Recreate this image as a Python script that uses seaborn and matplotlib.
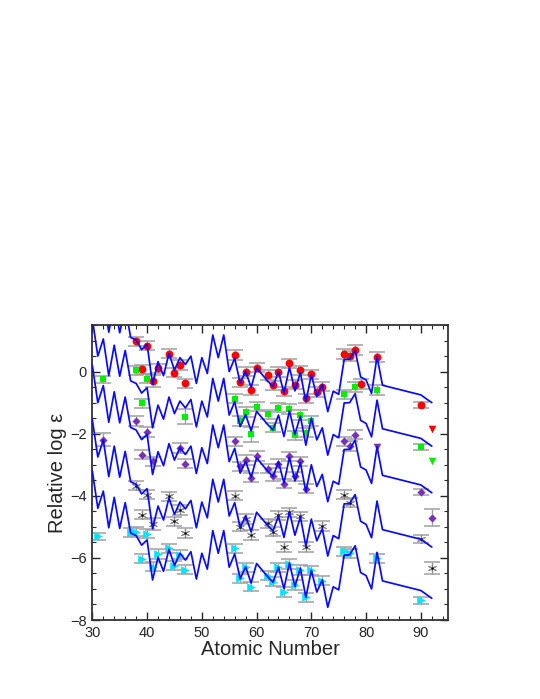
import numpy as np
import pandas as pd
import matplotlib
matplotlib.use("Agg")
import matplotlib.pyplot as plt
import seaborn as sns
from matplotlib.ticker import MultipleLocator

# ---- scaled solar r-process pattern (bottom curve) ----
pattern_Z = [30, 31, 32, 33, 34, 35, 36, 37, 38, 39, 40, 41, 42, 43, 44, 45, 46, 47, 48, 49,
             50, 51, 52, 53, 54, 55, 56, 57, 58, 59, 60, 62, 63, 64, 65, 66, 67, 68, 69, 70,
             71, 72, 73, 74, 75, 76, 77, 78, 79, 80, 81, 82, 83, 90, 92]
pattern_val = [-3.20, -4.40, -3.85, -5.03, -4.05, -5.05, -4.22, -5.20, -5.28, -5.59, -5.42,
               -6.71, -5.98, -6.43, -5.72, -6.25, -5.85, -6.07, -5.80, -6.68, -5.85, -6.36,
               -5.12, -5.85, -5.12, -6.30, -5.87, -6.67, -6.29, -6.81, -6.18, -6.60, -6.78,
               -6.30, -6.99, -6.16, -6.92, -6.33, -7.27, -6.40, -7.10, -6.71, -7.59, -6.93,
               -7.03, -5.91, -5.90, -5.61, -6.47, -6.57, -7.00, -5.82, -6.74, -7.05, -7.30]
curve_offsets = [6.30, 4.90, 3.40, 1.65, 0.0]

# ---- star 1 (red circles) ----
z1 = [38, 39, 40, 41, 42, 44, 45, 46, 47, 56, 57, 58, 59, 60, 62, 63, 64, 65, 66, 67, 68,
      69, 70, 71, 72, 76, 77, 78, 79, 82, 90]
v1 = [0.97, 0.07, 0.83, -0.30, 0.11, 0.58, -0.03, 0.21, -0.38, 0.54, -0.34, 0.00, -0.59,
      0.13, -0.11, -0.44, -0.01, -0.63, 0.27, -0.42, 0.04, -0.86, -0.09, -0.66, -0.49, 0.57,
      0.50, 0.70, -0.40, 0.48, -1.08]
e1 = [0.15, 0.15, 0.15, 0.2, 0.15, 0.15, 0.15, 0.15, 0.15, 0.15, 0.15, 0.15, 0.15, 0.15,
      0.15, 0.15, 0.15, 0.15, 0.15, 0.15, 0.15, 0.15, 0.15, 0.15, 0.15, 0.15, 0.15, 0.15,
      0.15, 0.16, 0.1]
lim1_z = [92]
lim1_v = [-1.86]

# ---- star 2 (green squares) ----
z2 = [32, 38, 39, 40, 47, 56, 57, 58, 59, 60, 62, 63, 64, 66, 67, 68, 69, 70, 76, 78, 82, 90]
v2 = [-0.25, 0.04, -1.02, -0.23, -1.45, -0.87, -1.59, -1.30, -2.02, -1.13, -1.38, -1.81,
      -1.16, -1.20, -2.05, -1.40, -1.97, -1.59, -0.73, -0.50, -0.59, -2.42]
e2 = [0.12, 0.15, 0.15, 0.15, 0.25, 0.15, 0.15, 0.15, 0.25, 0.15, 0.15, 0.15, 0.15, 0.15,
      0.15, 0.15, 0.15, 0.15, 0.15, 0.15, 0.15, 0.1]
lim2_z = [92]
lim2_v = [-2.89]

# ---- star 3 (purple) ----
z3 = [32, 38, 39, 40, 41, 46, 47, 56, 57, 58, 59, 60, 62, 63, 64, 65, 66, 67, 68, 69, 76,
      77, 78, 90, 92]
v3 = [-2.19, -1.59, -2.67, -1.94, -2.89, -2.46, -2.97, -2.24, -3.05, -2.85, -3.42, -2.72,
      -3.13, -3.37, -2.96, -3.61, -2.73, -3.37, -2.89, -3.77, -2.24, -2.40, -2.03, -3.88,
      -4.70]
e3 = [0.2, 0.15, 0.15, 0.15, 0.15, 0.15, 0.15, 0.15, 0.15, 0.15, 0.15, 0.15, 0.15, 0.15,
      0.15, 0.15, 0.15, 0.15, 0.15, 0.15, 0.15, 0.15, 0.15, 0.1, 0.26]
lim3_z = [82]
lim3_v = [-2.43]

# ---- star 4 (asterisks) ----
z4 = [38, 39, 40, 41, 44, 45, 46, 47, 56, 57, 58, 59, 62, 63, 64, 65, 66, 68, 69, 72, 76,
      77, 90, 92]
v4 = [-3.67, -4.61, -3.96, -4.90, -4.02, -4.82, -4.46, -5.20, -3.99, -4.99, -4.75, -5.26,
      -4.89, -5.15, -4.63, -5.65, -4.53, -4.66, -5.65, -4.97, -3.96, -4.22, -5.39, -6.32]
e4 = [0.15, 0.15, 0.15, 0.2, 0.15, 0.15, 0.15, 0.15, 0.15, 0.15, 0.15, 0.15, 0.15, 0.15,
      0.15, 0.15, 0.15, 0.15, 0.15, 0.15, 0.15, 0.15, 0.12, 0.2]

# ---- star 5 (cyan triangles) ----
z5 = [31, 37, 38, 39, 40, 41, 42, 44, 45, 46, 47, 56, 57, 58, 59, 62, 63, 64, 65, 66, 67,
      68, 69, 70, 72, 76, 77, 82, 90]
v5 = [-5.31, -5.18, -5.15, -6.02, -5.22, -6.28, -5.87, -5.69, -6.25, -5.90, -6.38, -5.69,
      -6.66, -6.30, -6.93, -6.57, -6.76, -6.30, -7.10, -6.20, -6.87, -6.39, -7.27, -6.40,
      -6.73, -5.79, -5.85, -6.01, -7.37]
e5 = [0.1, 0.15, 0.15, 0.15, 0.15, 0.15, 0.15, 0.15, 0.15, 0.15, 0.15, 0.15, 0.15, 0.15,
      0.15, 0.15, 0.15, 0.15, 0.15, 0.15, 0.15, 0.15, 0.15, 0.15, 0.15, 0.15, 0.15, 0.15,
      0.1]

sns.set_style("ticks")
plt.rcParams['font.family'] = ['Liberation Sans', 'DejaVu Sans']

fig = plt.figure(figsize=(5.40, 6.99), dpi=100)
ax = fig.add_axes([0.171, 0.113, 0.659, 0.422])

# curves
rows = []
for i, off in enumerate(curve_offsets):
    for z, v in zip(pattern_Z, pattern_val):
        rows.append({"Z": z, "val": v + off, "curve": i})
curves = pd.DataFrame(rows)
sns.lineplot(data=curves, x="Z", y="val", units="curve", estimator=None, sort=False,
             color="#0a0aff", lw=1.25, ax=ax, zorder=4)

err_kw = dict(fmt="none", ecolor="#a0a0a0", elinewidth=1.0, capsize=5.8, capthick=1.1, zorder=2)
stars = [
    (z1, v1, e1, "o", "#ff0000", 32),
    (z2, v2, e2, "s", "#00ee00", 22),
    (z3, v3, e3, "D", "#7a2fb8", 17),
    (z4, v4, e4, (6, 2, 0), "#8a8a8a", 34),
    (z5, v5, e5, ">", "#00e5ff", 38),
]
for z, v, e, m, c, s in stars:
    ax.errorbar(z, v, yerr=e, **err_kw)
    if m == (6, 2, 0):
        sns.scatterplot(x=z, y=v, marker=m, color=c, s=s, linewidth=0.8, ax=ax, zorder=3)
        sns.scatterplot(x=z, y=v, marker="o", color="#000000", s=3, linewidth=0, ax=ax, zorder=3)
    else:
        sns.scatterplot(x=z, y=v, marker=m, color=c, s=s, linewidth=0, ax=ax, zorder=3)

# upper limits
sns.scatterplot(x=lim1_z, y=lim1_v, marker="v", color="#ff0000", s=30, linewidth=0, ax=ax, zorder=3)
sns.scatterplot(x=lim2_z, y=lim2_v, marker="v", color="#00ee00", s=30, linewidth=0, ax=ax, zorder=3)
sns.scatterplot(x=lim3_z, y=lim3_v, marker="v", color="#7a2fb8", s=30, linewidth=0, ax=ax, zorder=3)

ax.set_xlim(30, 95)
ax.set_ylim(-8, 1.5)
ax.xaxis.set_major_locator(MultipleLocator(10))
ax.xaxis.set_minor_locator(MultipleLocator(2))
ax.yaxis.set_major_locator(MultipleLocator(2))
ax.yaxis.set_minor_locator(MultipleLocator(0.5))
ax.tick_params(which="both", direction="in", top=True, right=True, labelsize=10.5, pad=4)
ax.tick_params(which="major", length=6, width=1.0)
ax.tick_params(which="minor", length=3, width=0.8)
for sp in ax.spines.values():
    sp.set_linewidth(1.3)
    sp.set_color("#333333")

ax.set_xlabel("Atomic Number", fontsize=14.5, labelpad=0)
ax.set_ylabel("Relative log ε", fontsize=14.5, labelpad=2)

fig.savefig("out.png", dpi=100, facecolor="white")
